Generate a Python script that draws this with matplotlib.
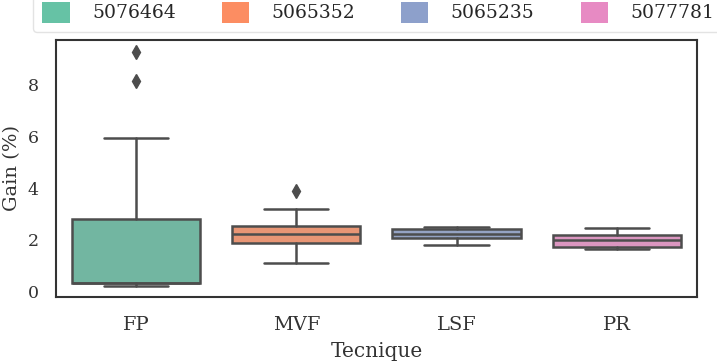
import matplotlib
matplotlib.use("Agg")
import matplotlib.pyplot as plt
import matplotlib.patches as mpatches
import seaborn as sns

# Box statistics
techniques = ["FP", "MVF", "LSF", "PR"]
legend_ids = ["5076464", "5065352", "5065235", "5077781"]
whis_lo = [0.19, 1.07, 1.79, 1.63]
q1 = [0.30, 1.86, 2.06, 1.69]
median = [0.30, 2.23, 2.20, 1.98]
q3 = [2.78, 2.52, 2.41, 2.17]
whis_hi = [5.95, 3.19, 2.49, 2.44]
fliers = [[8.16, 9.29], [3.88], [], []]

sns.set_style("white")
plt.rcParams["font.family"] = ["DejaVu Serif"]

palette = sns.color_palette("Set2", 4)
box_colors = [sns.desaturate(c, 0.75) for c in palette]
line_gray = "#4d4d4d"

fig = plt.figure(figsize=(7.17, 3.63), dpi=100)
ax = fig.add_axes([0.078, 0.182, 0.894, 0.708])

stats = []
for i, name in enumerate(techniques):
    stats.append({"label": name, "whislo": whis_lo[i], "q1": q1[i], "med": median[i],
                  "q3": q3[i], "whishi": whis_hi[i], "fliers": fliers[i]})

bp = ax.bxp(stats, positions=range(len(techniques)), widths=0.8, patch_artist=True,
            showfliers=True,
            boxprops=dict(edgecolor=line_gray, linewidth=1.8),
            medianprops=dict(color=line_gray, linewidth=1.8),
            whiskerprops=dict(color=line_gray, linewidth=1.8),
            capprops=dict(color=line_gray, linewidth=1.8),
            flierprops=dict(marker="d", markerfacecolor=line_gray, markeredgecolor=line_gray,
                            markersize=7))
for patch, c in zip(bp["boxes"], box_colors):
    patch.set_facecolor(c)
for cap in bp["caps"]:
    x0, x1 = cap.get_xdata()
    mid = (x0 + x1) / 2
    cap.set_xdata([mid - 0.2, mid + 0.2])

ax.set_xlim(-0.5, 3.5)
ax.set_ylim(-0.23, 9.75)
ax.set_yticks([0, 2, 4, 6, 8])
ax.set_xticks(range(len(techniques)))
ax.set_xticklabels(techniques)
ax.tick_params(axis="x", labelsize=14, colors="#333333", pad=10)
ax.tick_params(axis="y", labelsize=12.5, colors="#333333", pad=9)
ax.set_xlabel("Tecnique", fontsize=14.5, color="#333333", labelpad=6)
ax.set_ylabel("Gain (%)", fontsize=14, color="#333333")
ax.yaxis.set_label_coords(-0.054, 0.5)
for s in ax.spines.values():
    s.set_color("#333333")
    s.set_linewidth(1.5)

handles = [mpatches.Patch(facecolor=c, edgecolor="none") for c in palette]
fig.legend(handles, legend_ids, loc="lower left", bbox_to_anchor=(33 / 717, 1 - 32 / 363),
           ncol=4, fontsize=13.5, frameon=True, handlelength=1.45, handleheight=1.35,
           columnspacing=2.45, handletextpad=1.2, borderaxespad=0, borderpad=0.5,
           fancybox=True, edgecolor="#dddddd")

fig.savefig("out.png", dpi=100)
